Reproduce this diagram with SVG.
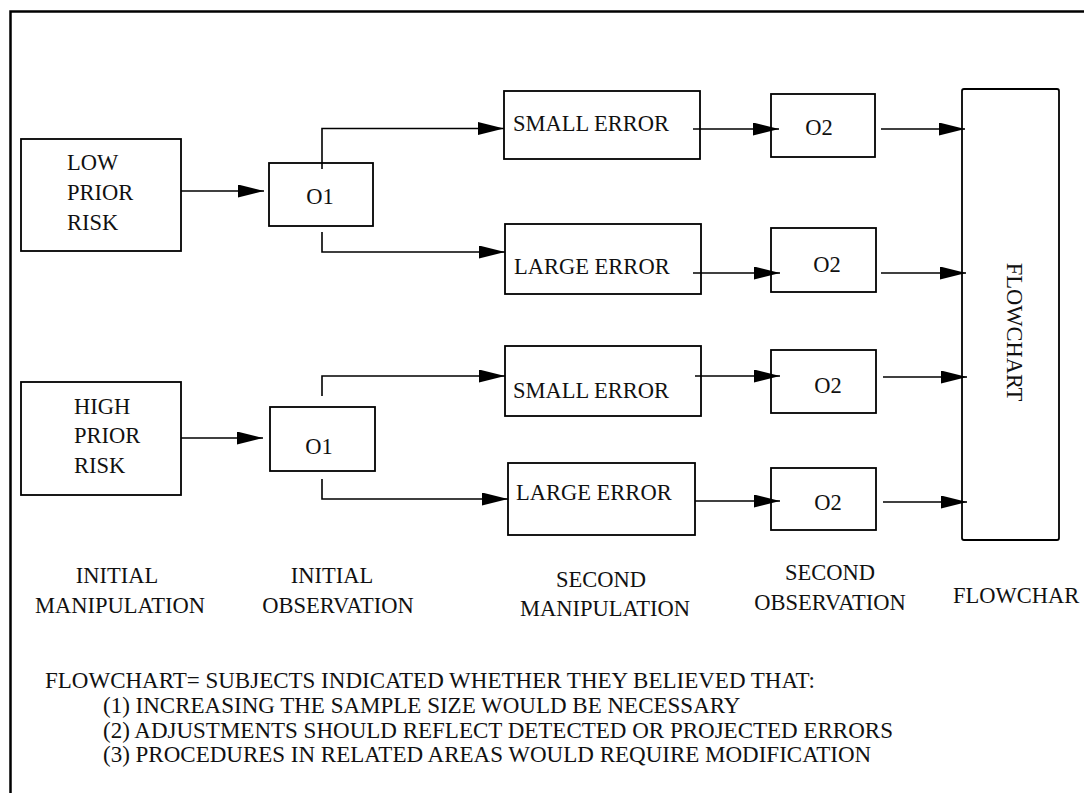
<svg xmlns="http://www.w3.org/2000/svg" width="1084" height="793" viewBox="0 0 1084 793">
<defs>
<marker id="ah" markerUnits="userSpaceOnUse" markerWidth="27" markerHeight="13" refX="26" refY="6.5" orient="auto"><path d="M0,0 L26,6.5 L0,13 z" fill="#000"/></marker>
<style>
.box{fill:#fff;stroke:#000;stroke-width:1.8}
.t{font-family:"Liberation Serif","Times New Roman",serif;font-size:22.5px;fill:#111}
.m{text-anchor:middle}
.n{font-size:23px}
.c{fill:none;stroke:#000;stroke-width:1.6}
.frame{fill:none;stroke:#000;stroke-width:2.5}
</style>
</defs>
<rect width="1084" height="793" fill="#fff"/>
<path class="frame" d="M10.5,793 V11.5 H1084"/>
<g id="low-prior-risk"><rect class="box" x="21" y="139" width="160" height="112"/><text class="t" x="67" y="170">LOW</text><text class="t" x="67" y="200">PRIOR</text><text class="t" x="67" y="230">RISK</text></g>
<g id="high-prior-risk"><rect class="box" x="21" y="382" width="160" height="113"/><text class="t" x="74" y="414">HIGH</text><text class="t" x="74" y="443">PRIOR</text><text class="t" x="74" y="473">RISK</text></g>
<g id="o1-low"><rect class="box" x="269" y="163" width="104" height="63"/><text class="t m" x="320" y="204">O1</text></g>
<g id="o1-high"><rect class="box" x="270" y="407" width="105" height="64"/><text class="t m" x="319" y="454">O1</text></g>
<g id="small-error-1"><rect class="box" x="504" y="91" width="196" height="68"/><text class="t" x="513" y="131">SMALL ERROR</text></g>
<g id="large-error-1"><rect class="box" x="505" y="224" width="196" height="70"/><text class="t" x="514" y="274">LARGE ERROR</text></g>
<g id="small-error-2"><rect class="box" x="505" y="346" width="196" height="70"/><text class="t" x="513" y="398">SMALL ERROR</text></g>
<g id="large-error-2"><rect class="box" x="508" y="463" width="187" height="72"/><text class="t" x="516" y="500">LARGE ERROR</text></g>
<g id="o2-a"><rect class="box" x="771" y="94" width="104" height="63"/><text class="t m" x="819" y="135">O2</text></g>
<g id="o2-b"><rect class="box" x="771" y="228" width="105" height="64"/><text class="t m" x="827" y="272">O2</text></g>
<g id="o2-c"><rect class="box" x="771" y="350" width="105" height="63"/><text class="t m" x="828" y="393">O2</text></g>
<g id="o2-d"><rect class="box" x="771" y="468" width="105" height="62"/><text class="t m" x="828" y="510">O2</text></g>
<g id="flowchart"><rect class="box" x="962" y="89" width="97" height="451" rx="2"/><text class="t m" transform="translate(1007,332) rotate(90)">FLOWCHART</text></g>
<g id="connectors">
<path class="c" marker-end="url(#ah)" d="M181,191 H264"/>
<path class="c" marker-end="url(#ah)" d="M181,438 H263"/>
<path class="c" marker-end="url(#ah)" d="M322,169 V128.5 H504"/>
<path class="c" marker-end="url(#ah)" d="M322,232 V252 H505"/>
<path class="c" marker-end="url(#ah)" d="M322,396 V376 H505"/>
<path class="c" marker-end="url(#ah)" d="M322,479 V499 H508"/>
<path class="c" marker-end="url(#ah)" d="M693,129 H779"/>
<path class="c" marker-end="url(#ah)" d="M693,273 H780"/>
<path class="c" marker-end="url(#ah)" d="M695,376 H780"/>
<path class="c" marker-end="url(#ah)" d="M695,501 H780"/>
<path class="c" marker-end="url(#ah)" d="M881,129 H965"/>
<path class="c" marker-end="url(#ah)" d="M881,273 H966"/>
<path class="c" marker-end="url(#ah)" d="M883,377 H967"/>
<path class="c" marker-end="url(#ah)" d="M883,502 H967"/>
</g>
<g id="stage-labels">
<text class="t m" x="117" y="583">INITIAL</text><text class="t m" x="120" y="613">MANIPULATION</text>
<text class="t m" x="332" y="583">INITIAL</text><text class="t m" x="338" y="613">OBSERVATION</text>
<text class="t m" x="601" y="587">SECOND</text><text class="t m" x="605" y="616">MANIPULATION</text>
<text class="t m" x="830" y="580">SECOND</text><text class="t m" x="830" y="610">OBSERVATION</text>
<text class="t" x="953" y="603">FLOWCHAR</text>
</g>
<g id="note">
<text class="t n" x="45" y="688">FLOWCHART= SUBJECTS INDICATED WHETHER THEY BELIEVED THAT:</text>
<text class="t n" x="103" y="713">(1) INCREASING THE SAMPLE SIZE WOULD BE NECESSARY</text>
<text class="t n" x="103" y="738">(2) ADJUSTMENTS SHOULD REFLECT DETECTED OR PROJECTED ERRORS</text>
<text class="t n" x="103" y="762">(3) PROCEDURES IN RELATED AREAS WOULD REQUIRE MODIFICATION</text>
</g>
</svg>
